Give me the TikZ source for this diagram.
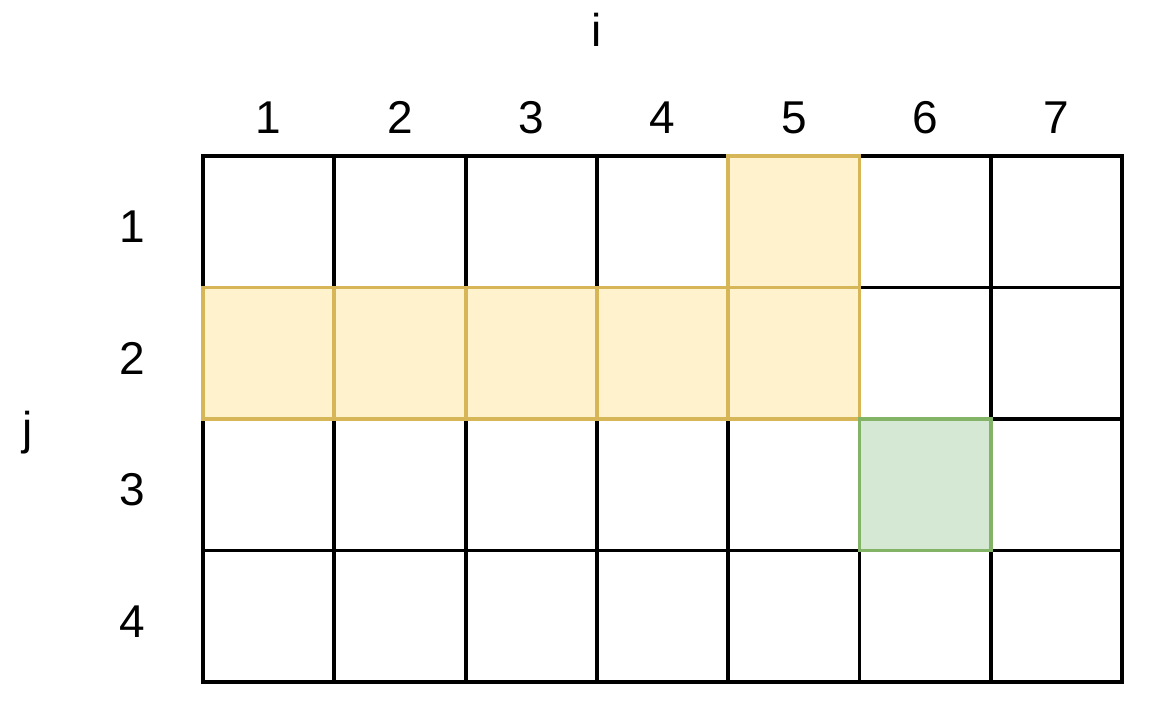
\documentclass[tikz,border=0pt]{standalone}
\usepackage{fontspec}
\setmainfont{Liberation Sans}
\usepackage{tikz}
\definecolor{hlfill}{HTML}{FFF2CC}
\definecolor{hldraw}{HTML}{D6B656}
\definecolor{okfill}{HTML}{D5E8D4}
\definecolor{okdraw}{HTML}{82B366}
\tikzset{
  gridcell/.style={draw=black, line width=3.8pt},
  rowcell/.style={draw=hldraw, fill=hlfill, line width=3.8pt},
  goalcell/.style={draw=okdraw, fill=okfill, line width=3.8pt},
  idx/.style={font=\fontsize{46}{46}\selectfont, inner sep=0pt}
}

\begin{document}
\begin{tikzpicture}[x=131.3pt, y=-131.5pt]
                  % Fix the page size
                  \useasboundingbox (-1.546,-1.186) rectangle (7.235,4.274);

                  % Draw the plain grid
                  \foreach \c in {0,...,6}
                    \foreach \r in {0,...,3}
                      \draw[gridcell] (\c,\r) rectangle ++(1,1);

                  % Highlighted cells
                  \foreach \c in {0,...,4}
                    \draw[rowcell] (\c,1) rectangle ++(1,1);
                  \draw[rowcell] (4,0) rectangle ++(1,1);
                  \draw[goalcell] (5,2) rectangle ++(1,1);

                  % Column and row numbers
                  \foreach \c in {1,...,7}
                    \node[idx] (col\c) at (\c-0.5,-0.29) {\c};
                  \foreach \r in {1,...,4}
                    \node[idx] (row\r) at (-0.54,\r-0.46) {\r};

                  % Axis names
                  \node[idx] (iname) at (3.0,-0.96) {i};
                  \node[idx] (jname) at (-1.333,2.1) {j};

              \end{tikzpicture}
\end{document}
